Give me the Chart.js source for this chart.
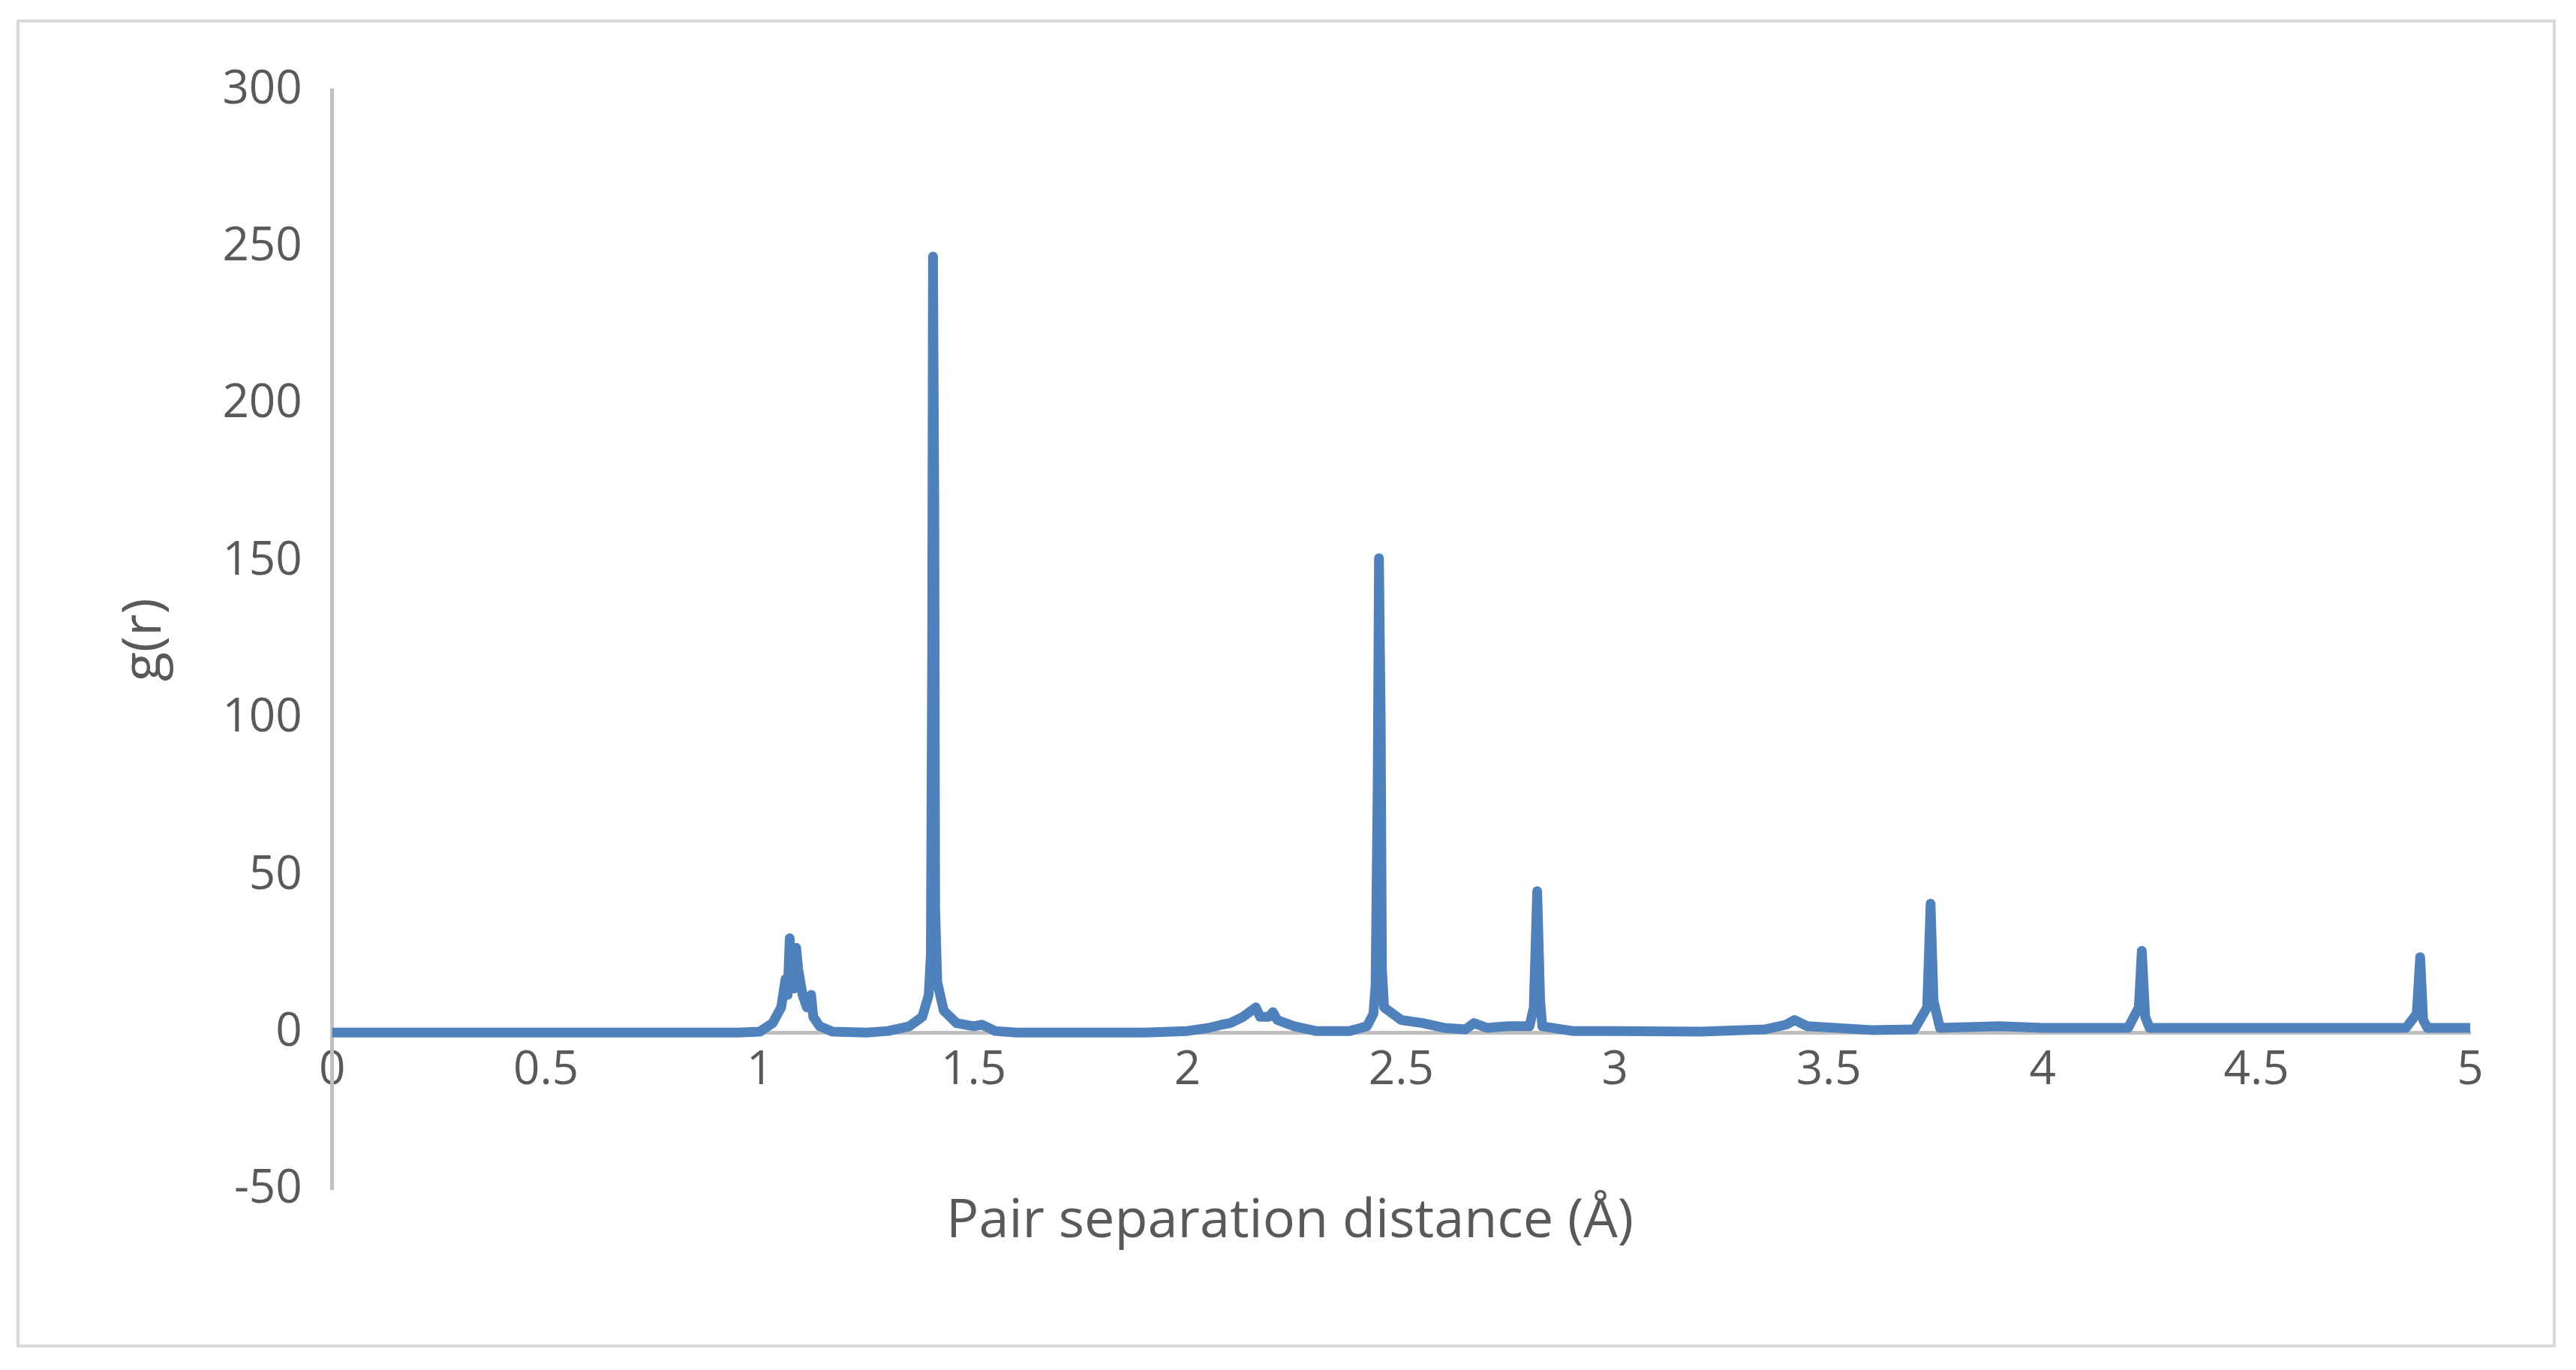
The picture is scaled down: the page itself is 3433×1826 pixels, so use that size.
<!DOCTYPE html>
<html>
<head>
<meta charset="utf-8">
<script src="https://cdn.jsdelivr.net/npm/chart.js@4"></script>
<style>
  html, body { margin: 0; padding: 0; background: #fff; }
  #box { position: absolute; left: 22px; top: 26px; width: 3384px; height: 1770px;
         border: 4px solid #d9d9d9; box-sizing: border-box; }
  canvas { display: block; }
</style>
</head>
<body>
<div id="box"><canvas id="gr"></canvas></div>
<script>
// pair separation distance (Å)
const rValues = [0, 0.95, 1.0, 1.03, 1.05, 1.06, 1.065, 1.07, 1.075, 1.08, 1.085, 1.09, 1.1, 1.11, 1.12, 1.125, 1.14, 1.17,
  1.25, 1.3, 1.35, 1.38, 1.395, 1.4, 1.403, 1.405, 1.408, 1.41, 1.415, 1.43, 1.46, 1.5, 1.52, 1.55, 1.6,
  1.9, 2.0, 2.05, 2.08, 2.1, 2.13, 2.16, 2.17, 2.19, 2.2, 2.21, 2.25, 2.3, 2.38, 2.42, 2.435, 2.44, 2.445, 2.448,
  2.452, 2.455, 2.46, 2.5, 2.55, 2.6, 2.65, 2.67, 2.7, 2.75, 2.8, 2.81, 2.818, 2.825, 2.83, 2.9, 3.0, 3.2,
  3.35, 3.4, 3.42, 3.45, 3.6, 3.7, 3.73, 3.738, 3.745, 3.76, 3.9, 4.0, 4.2, 4.225, 4.232, 4.24, 4.25,
  4.6, 4.85, 4.875, 4.883, 4.89, 4.9, 5.0];
// g(r)
const gValues = [0, 0, 0.3, 3, 8, 17, 12, 30, 18, 14, 27, 20, 12, 8, 12, 5, 2, 0.3,
  0, 0.5, 2, 5, 12, 25, 120, 247, 170, 40, 16, 7, 3, 2, 2.5, 0.5, 0,
  0, 0.5, 1.5, 2.5, 3, 5, 8, 5, 5, 6.5, 4, 2, 0.5, 0.5, 2, 6, 15, 80, 151,
  100, 20, 8, 4, 3, 1.5, 1, 3, 1.5, 2, 2, 8, 45, 10, 2, 0.5, 0.5, 0.3,
  1, 2.5, 4, 2, 0.8, 1, 8, 41, 10, 1.5, 2, 1.5, 1.5, 8, 26, 5, 1.5,
  1.5, 1.5, 6, 24, 4, 1.5, 1.5];
const xTicks = [0, 0.5, 1, 1.5, 2, 2.5, 3, 3.5, 4, 4.5, 5];
const yTicks = [-50, 0, 50, 100, 150, 200, 250, 300];

const FONT = "'Open Sans', sans-serif";
const TXT = '#595959';

new Chart(document.getElementById('gr'), {
  type: 'line',
  data: {
    datasets: [{
      data: rValues.map((r, i) => ({ x: r, y: gValues[i] })),
      borderColor: '#4f81bd',
      borderWidth: 13,
      pointRadius: 0,
      tension: 0,
      borderJoinStyle: 'round',
      borderCapStyle: 'round'
    }]
  },
  options: {
    responsive: true,
    maintainAspectRatio: false,
    animation: false,
    layout: { padding: { top: 90, right: 110, bottom: 80, left: 120 } },
    plugins: {
      legend: { display: false },
      tooltip: { enabled: false },
      title: {
        display: true, position: 'bottom', text: 'Pair separation distance (Å)',
        color: TXT, font: { family: FONT, size: 72, weight: 'normal' }, padding: { top: 0, bottom: 40 }
      }
    },
    scales: {
      x: {
        type: 'linear', min: 0, max: 5, position: { y: 0 },
        afterBuildTicks: s => { s.ticks = xTicks.map(v => ({ value: v })); },
        grid: { display: false, drawTicks: false },
        border: { color: '#bfbfbf', width: 5 },
        ticks: { color: TXT, font: { family: FONT, size: 62 }, padding: 14, maxRotation: 0,
                 callback: v => String(v) }
      },
      y: {
        min: -50, max: 300,
        afterBuildTicks: s => { s.ticks = yTicks.map(v => ({ value: v })); },
        grid: { display: false, drawTicks: false },
        border: { color: '#bfbfbf', width: 5 },
        ticks: { color: TXT, font: { family: FONT, size: 62 }, padding: 40 },
        title: { display: true, text: 'g(r)', color: TXT, font: { family: FONT, size: 72 }, padding: { bottom: 20 } }
      }
    }
  }
});
</script>
</body>
</html>
